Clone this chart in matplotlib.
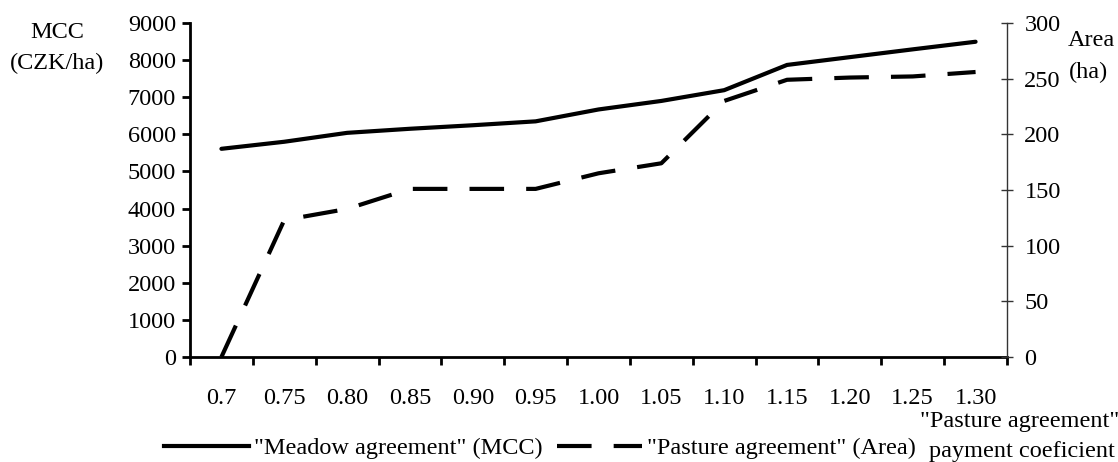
import matplotlib
matplotlib.use("Agg")
import matplotlib.pyplot as plt
from matplotlib.lines import Line2D
import numpy as np

categories = ["0.7", "0.75", "0.80", "0.85", "0.90", "0.95", "1.00",
              "1.05", "1.10", "1.15", "1.20", "1.25", "1.30"]
mcc = [5610, 5800, 6040, 6150, 6245, 6350, 6670, 6900, 7190, 7870, 8080, 8290, 8495]
area = [0, 123, 133, 151, 151, 151, 165, 174, 230, 249, 251, 252, 256]

plt.rcParams['font.family'] = ['Liberation Serif', 'DejaVu Serif']
plt.rcParams['font.size'] = 17.5

W, H = 1118, 462
fig = plt.figure(figsize=(W/100, H/100), dpi=100)
ax = fig.add_axes([190/W, 1-357/H, (1007-190)/W, (357-23)/H])
ax2 = ax.twinx()

x = np.arange(len(categories))
ax.plot(x, mcc, color='black', lw=3, solid_joinstyle='miter', solid_capstyle='round')
ax2.plot(x, area, color='black', lw=3, dashes=(8.3, 5.3), dash_capstyle='butt')

ax.set_xlim(-0.5, len(categories) - 0.5)
ax.set_ylim(0, 9000)
ax2.set_ylim(0, 300)
ax.set_yticks(np.arange(0, 9001, 1000))
ax2.set_yticks(np.arange(0, 301, 50))

ax.set_xticks(x)
ax.set_xticklabels(categories)
ax.set_xticks(np.arange(-0.5, len(categories), 1), minor=True)
ax.tick_params(axis='x', which='major', length=0, pad=22)
ax.tick_params(axis='x', which='minor', length=6, width=2, direction='out')
ax.tick_params(axis='y', length=6, width=2, direction='out', pad=4)
ax2.tick_params(axis='y', length=9, width=1, direction='inout', pad=8, color='#333333')

ax.spines['top'].set_visible(False)
ax2.spines['top'].set_visible(False)
ax.spines['right'].set_visible(False)
ax2.spines['left'].set_visible(False)
ax2.spines['bottom'].set_visible(False)
ax.spines['left'].set_linewidth(2)
ax.spines['bottom'].set_linewidth(2)
ax2.spines['right'].set_linewidth(1)
ax2.spines['right'].set_color('#333333')

def txt(px, py, s):
    fig.text(px/W, 1-py/H, s, ha='center', va='center')

txt(57, 33, "MCC")
txt(57, 63, "(CZK/ha)")
txt(1091, 40, "Area")
txt(1088, 72, "(ha)")
txt(1020, 421, "\"Pasture agreement\"")
txt(1022, 451, "payment coeficient")

handles = [Line2D([], [], color='black', lw=3),
           Line2D([], [], color='black', lw=3, dashes=(8.3, 5.3), dash_capstyle='butt')]
labels = ["\"Meadow agreement\" (MCC)", "\"Pasture agreement\" (Area)"]
fig.legend(handles, labels, loc='center', bbox_to_anchor=(540/W, 1-448/H),
           ncol=2, frameon=False, handlelength=3.5, handletextpad=0.2,
           columnspacing=0.6, borderpad=0)

fig.savefig("out.png", dpi=100)
